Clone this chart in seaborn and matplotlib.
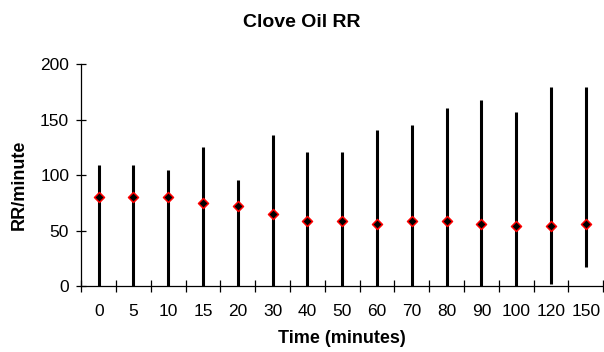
import matplotlib
matplotlib.use('Agg')
import numpy as np
import pandas as pd
import matplotlib.pyplot as plt
import seaborn as sns

# Respiration rate per minute over time (clove oil group)
time_labels = ['0', '5', '10', '15', '20', '30', '40', '50', '60', '70', '80', '90', '100', '120', '150']
rr_mean = [80, 80, 80, 75, 72, 65, 59, 59, 56, 59, 59, 56, 54, 54, 56]
rr_high = [109, 109, 105, 125, 96, 136, 121, 121, 141, 145, 161, 168, 157, 180, 180]
rr_low = [0, 0, 0, 0, 0, 0, 0, 0, 0, 0, 0, 0, 0, 2, 17]

df = pd.DataFrame({'time': time_labels, 'mean': rr_mean, 'high': rr_high, 'low': rr_low})

sns.set_style('white')
plt.rcParams['font.family'] = ['Liberation Sans', 'DejaVu Sans']
plt.rcParams['text.color'] = 'black'
plt.rcParams['axes.labelcolor'] = 'black'

fig = plt.figure(figsize=(6.04, 3.52), dpi=100)
ax = fig.add_axes([0.1346, 0.1875, 0.864, 0.6297])

# high-low lines, then the mean markers on top
ax.vlines(df['time'], df['low'], df['high'], color='black', linewidth=2.2, zorder=2)
sns.scatterplot(data=df, x='time', y='mean', marker='D', s=26, color='black',
                edgecolor='red', linewidth=1.1, ax=ax, zorder=3)

ax.set_ylim(0, 200)
ax.set_yticks([0, 50, 100, 150, 200])
ax.set_xlim(-0.5, len(time_labels) - 0.5)
ax.set_xticks(np.arange(len(time_labels) + 1) - 0.5, minor=True)

for side in ['top', 'right']:
    ax.spines[side].set_visible(False)
for side in ['left', 'bottom']:
    ax.spines[side].set_color('black')
    ax.spines[side].set_linewidth(0.9)

ax.tick_params(axis='x', which='major', bottom=True, length=0, pad=13, labelsize=12.5, colors='black')
ax.tick_params(axis='x', which='minor', bottom=True, length=8.5, direction='inout', width=0.9, color='black')
ax.tick_params(axis='y', which='major', left=True, length=7.5, direction='inout', width=0.9, pad=5,
               labelsize=12.5, colors='black')

ax.set_xlabel('Time (minutes)', fontsize=13, fontweight='bold', va='center', color='black')
ax.xaxis.set_label_coords(0.5, -0.2346)
ax.set_ylabel('RR/minute', fontsize=13, fontweight='bold', va='center', ha='center', color='black')
ax.yaxis.set_label_coords(-0.119, 0.456)

fig.text(302 / 604, 1 - 22.5 / 352, 'Clove Oil RR', ha='center', va='center',
         fontsize=14, fontweight='bold', color='black')

fig.savefig('out.png', dpi=100)
